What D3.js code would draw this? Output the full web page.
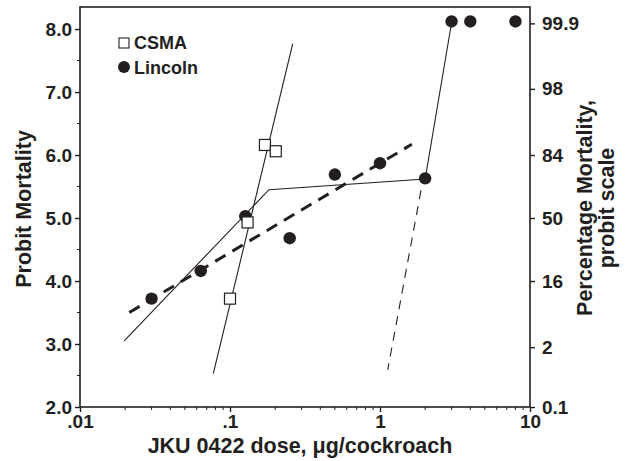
<!DOCTYPE html>
<html>
<head>
<meta charset="utf-8">
<script src="https://cdn.jsdelivr.net/npm/d3@7"></script>
<style>
  body { margin: 0; background: #fff; }
  svg text { font-family: "Liberation Sans", Arial, sans-serif; font-weight: bold; fill: #231f20; }
</style>
</head>
<body>
<div id="chart"></div>
<script>
// CSMA strain: dose (ug/cockroach), probit mortality
const csmaDose = [0.1, 0.131, 0.171, 0.202];
const csmaProbit = [3.72, 4.93, 6.16, 6.06];
const csmaLine = [[0.0774, 2.53], [0.262, 7.77]];

// Lincoln strain
const lincolnDose = [0.03, 0.0638, 0.1265, 0.25, 0.5, 1.0, 2.0, 3.0, 4.0, 8.0];
const lincolnProbit = [3.72, 4.16, 5.03, 4.68, 5.69, 5.87, 5.63, 8.12, 8.12, 8.12];
const lincolnSegments = [[0.0197, 3.05], [0.182, 5.45], [2.0, 5.62], [3.0, 8.1]];
const lincolnFit = [[0.0213, 3.5], [1.63, 6.17]];
const lincolnSteep = [[1.876, 5.44], [1.126, 2.59]];

// axes
const xTicks = [0.01, 0.1, 1, 10];
const xTickLabels = ['.01', '.1', '1', '10'];
const yTicks = [2, 3, 4, 5, 6, 7, 8];
const pctLabels = ['0.1', '2', '16', '50', '84', '98', '99.9'];
const pctProbit = [2.0, 2.95, 4.0, 5.0, 6.0, 7.05, 8.09];

const W = 629, H = 461;
const ink = '#231f20';
const svg = d3.select('#chart').append('svg').attr('width', W).attr('height', H);

const x = d3.scaleLog().domain([0.01, 10]).range([80, 530]);
const y = d3.scaleLinear().domain([2, 8.35]).range([407, 7]);

// frame
svg.append('rect')
  .attr('x', 80).attr('y', 7).attr('width', 450).attr('height', 400)
  .attr('fill', 'none').attr('stroke', ink).attr('stroke-width', 1.6);

// minor ticks
const xMinor = [];
[0.01, 0.1, 1].forEach(d => { for (let k = 2; k <= 9; k++) xMinor.push(d * k); });
svg.append('g').selectAll('line').data(xMinor).enter().append('line')
  .attr('x1', d => x(d)).attr('x2', d => x(d))
  .attr('y1', 407).attr('y2', 410)
  .attr('stroke', ink).attr('stroke-width', 1);
const yMinor = d3.range(2.5, 8, 1);
svg.append('g').selectAll('line').data(yMinor).enter().append('line')
  .attr('x1', 77).attr('x2', 80)
  .attr('y1', d => y(d)).attr('y2', d => y(d))
  .attr('stroke', ink).attr('stroke-width', 1);

const styleAxis = g => {
  g.select('.domain').remove();
  g.selectAll('.tick line').attr('stroke', ink).attr('stroke-width', 1.4);
  g.selectAll('.tick text').attr('font-size', 19).attr('fill', ink);
};

svg.append('g').attr('transform', 'translate(0,407)')
  .call(d3.axisBottom(x).tickValues(xTicks).tickSize(5).tickPadding(3)
    .tickFormat((d, i) => xTickLabels[i]))
  .call(styleAxis);

svg.append('g').attr('transform', 'translate(80,0)')
  .call(d3.axisLeft(y).tickValues(yTicks).tickSize(5).tickPadding(3)
    .tickFormat(d3.format('.1f')))
  .call(styleAxis);

svg.append('g').attr('transform', 'translate(530,0)')
  .call(d3.axisRight(y).tickValues(pctProbit).tickSize(5).tickPadding(7)
    .tickFormat((d, i) => pctLabels[i]))
  .call(styleAxis);

// titles
svg.append('text')
  .attr('transform', 'translate(31,209) rotate(-90)')
  .attr('text-anchor', 'middle').attr('font-size', 21.5)
  .text('Probit Mortality');

svg.append('text')
  .attr('x', 300).attr('y', 453)
  .attr('text-anchor', 'middle').attr('font-size', 21.5)
  .text('JKU 0422 dose, μg/cockroach');

const rt = svg.append('text')
  .attr('transform', 'translate(592,208) rotate(-90)')
  .attr('text-anchor', 'middle').attr('font-size', 21.5);
rt.append('tspan').attr('x', 0).attr('dy', 0).text('Percentage Mortality,');
rt.append('tspan').attr('x', 0).attr('dy', 22).text('probit scale');

// lines
const line = d3.line().x(d => x(d[0])).y(d => y(d[1]));

svg.append('path').datum(csmaLine).attr('d', line)
  .attr('fill', 'none').attr('stroke', ink).attr('stroke-width', 1.1);
svg.append('path').datum(lincolnSegments).attr('d', line)
  .attr('fill', 'none').attr('stroke', ink).attr('stroke-width', 1.1);
svg.append('path').datum(lincolnFit).attr('d', line)
  .attr('fill', 'none').attr('stroke', ink).attr('stroke-width', 3)
  .attr('stroke-dasharray', '12,8');
svg.append('path').datum(lincolnSteep).attr('d', line)
  .attr('fill', 'none').attr('stroke', ink).attr('stroke-width', 1.1)
  .attr('stroke-dasharray', '9,7');

// points
svg.append('g').selectAll('circle').data(lincolnDose).enter().append('circle')
  .attr('cx', d => x(d)).attr('cy', (d, i) => y(lincolnProbit[i]))
  .attr('r', 6.2).attr('fill', ink);

svg.append('g').selectAll('rect').data(csmaDose).enter().append('rect')
  .attr('x', d => x(d) - 5.5).attr('y', (d, i) => y(csmaProbit[i]) - 5.5)
  .attr('width', 11).attr('height', 11)
  .attr('fill', '#fff').attr('stroke', ink).attr('stroke-width', 1.2);

// legend
const legend = svg.append('g');
legend.append('rect').attr('x', 119).attr('y', 38).attr('width', 10).attr('height', 10)
  .attr('fill', '#fff').attr('stroke', ink).attr('stroke-width', 1.1);
legend.append('text').attr('x', 134).attr('y', 49).attr('font-size', 18).text('CSMA');
legend.append('circle').attr('cx', 124).attr('cy', 67).attr('r', 6).attr('fill', ink);
legend.append('text').attr('x', 134).attr('y', 74).attr('font-size', 18).text('Lincoln');
</script>
</body>
</html>
